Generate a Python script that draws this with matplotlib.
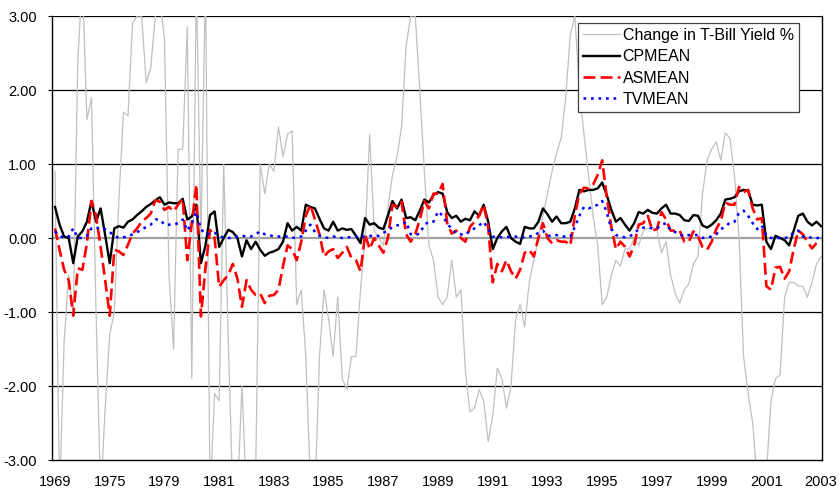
import matplotlib
matplotlib.use("Agg")
import matplotlib.pyplot as plt
import numpy as np

plt.rcParams['font.family'] = ['Liberation Sans', 'DejaVu Sans']

# two-month steps, label every 24 months
year_labels = ["1969", "1975", "1979", "1981", "1983", "1985", "1987", "1989",
               "1991", "1993", "1995", "1997", "1999", "2001", "2003"]

tbill_change = [
    0.9, -3.5, -1.4, -0.5, -1.05, 2.4, 3.5, 1.6, 1.9, -1.0, -3.5, -2.3,
    -1.3, -1.0, 0.5, 1.7, 1.65, 2.9, 3.0, 3.0, 2.1, 2.3, 3.0, 3.2,
    2.7, -0.5, -1.5, 1.2, 1.2, 2.85, -1.9, 3.5, 0.0, 3.5, -3.5, -2.1,
    -2.2, 1.0, -1.4, -3.5, -3.5, -2.0, -3.5, -3.5, -3.2, 1.0, 0.6, 1.0,
    0.9, 1.5, 1.1, 1.4, 1.45, -0.9, -0.7, -1.6, -3.3, -3.5, -1.6, -0.7,
    -1.1, -1.6, -0.8, -1.9, -2.05, -1.6, -1.6, -0.7, 0.0, 1.4, 0.1, 0.0,
    -0.1, 0.4, 0.85, 1.1, 1.5, 2.6, 3.0, 3.0, 2.0, 0.9, -0.1, -0.3,
    -0.8, -0.9, -0.8, -0.3, -0.8, -0.7, -1.8, -2.35, -2.3, -2.05, -2.2, -2.75,
    -2.4, -1.76, -1.9, -2.3, -2.0, -1.1, -0.9, -1.2, -0.6, -0.3, 0.0, 0.3,
    0.6, 0.9, 1.15, 1.35, 1.9, 2.75, 3.0, 2.0, 1.4, 0.85, 0.3, -0.1,
    -0.9, -0.8, -0.5, -0.3, -0.38, -0.15, -0.15, 0.0, -0.1, 0.1, 0.13, 0.15,
    0.1, -0.2, -0.05, -0.5, -0.75, -0.88, -0.7, -0.62, -0.35, -0.25, 0.6, 1.05,
    1.2, 1.3, 1.05, 1.42, 1.35, 0.85, 0.0, -1.6, -2.1, -2.5, -3.3, -3.5,
    -3.2, -2.2, -1.9, -1.85, -0.8, -0.6, -0.6, -0.65, -0.65, -0.8, -0.6, -0.35, -0.25,
]

cpmean = [
    0.42, 0.18, 0.02, 0.0, -0.34, 0.02, 0.09, 0.22, 0.5, 0.22, 0.40, 0.04,
    -0.34, 0.13, 0.16, 0.14, 0.22, 0.25, 0.31, 0.36, 0.42, 0.46, 0.51, 0.55,
    0.45, 0.48, 0.47, 0.47, 0.53, 0.25, 0.29, 0.45, -0.34, -0.1, 0.31, 0.36,
    -0.12, 0.0, 0.11, 0.08, 0.0, -0.25, -0.03, -0.15, -0.05, -0.16, -0.24, -0.2,
    -0.18, -0.15, -0.05, 0.2, 0.1, 0.15, 0.1, 0.45, 0.42, 0.4, 0.26, 0.13,
    0.1, 0.22, 0.1, 0.13, 0.11, 0.12, 0.03, -0.07, 0.27, 0.18, 0.2, 0.14,
    0.12, 0.3, 0.5, 0.4, 0.52, 0.27, 0.28, 0.24, 0.37, 0.52, 0.48, 0.58,
    0.62, 0.6, 0.35, 0.27, 0.3, 0.22, 0.26, 0.24, 0.36, 0.3, 0.45, 0.22,
    -0.15, 0.0, 0.09, 0.15, 0.0, -0.05, -0.08, 0.15, 0.13, 0.13, 0.22, 0.4,
    0.32, 0.22, 0.29, 0.2, 0.2, 0.22, 0.4, 0.65, 0.63, 0.65, 0.65, 0.67,
    0.75, 0.58, 0.38, 0.22, 0.27, 0.18, 0.1, 0.2, 0.35, 0.33, 0.38, 0.34,
    0.33, 0.4, 0.45, 0.33, 0.33, 0.31, 0.24, 0.23, 0.31, 0.3, 0.17, 0.14,
    0.18, 0.24, 0.33, 0.52, 0.53, 0.55, 0.63, 0.65, 0.64, 0.45, 0.44, 0.45,
    -0.05, -0.15, 0.03, 0.0, -0.03, -0.1, 0.1, 0.3, 0.33, 0.22, 0.17, 0.22, 0.16,
]

asmean = [
    0.13, -0.16, -0.43, -0.57, -1.05, -0.41, -0.43, -0.07, 0.5, 0.3, -0.12, -0.57,
    -1.05, -0.16, -0.18, -0.23, -0.09, 0.06, 0.13, 0.22, 0.27, 0.33, 0.51, 0.49,
    0.38, 0.42, 0.36, 0.45, 0.53, -0.3, 0.2, 0.72, -1.06, -0.4, 0.11, 0.0,
    -0.66, -0.57, -0.5, -0.35, -0.55, -0.93, -0.57, -0.7, -0.77, -0.75, -0.88, -0.78,
    -0.77, -0.7, -0.38, -0.1, -0.15, -0.3, -0.05, 0.3, 0.45, 0.25, 0.05, -0.25,
    -0.18, -0.15, -0.27, -0.2, -0.12, -0.27, -0.3, -0.45, 0.05, -0.15, 0.0, -0.1,
    -0.2, 0.0, 0.45, 0.42, 0.49, 0.05, -0.05, 0.05, 0.25, 0.5, 0.4, 0.6,
    0.6, 0.73, 0.2, 0.06, 0.1, 0.0, -0.05, 0.15, 0.22, 0.3, 0.45, 0.15,
    -0.6, -0.35, -0.45, -0.3, -0.45, -0.55, -0.43, -0.2, -0.16, -0.25, 0.0, 0.2,
    0.0, -0.07, -0.03, -0.05, -0.05, -0.1, 0.3, 0.6, 0.68, 0.67, 0.72, 0.85,
    1.05, 0.55, 0.15, -0.15, -0.05, -0.12, -0.25, -0.1, 0.18, 0.2, 0.3, 0.1,
    0.12, 0.35, 0.25, 0.1, 0.1, 0.1, -0.05, -0.05, 0.09, 0.02, -0.12, -0.16,
    -0.05, 0.12, 0.23, 0.48, 0.45, 0.45, 0.69, 0.62, 0.65, 0.4, 0.25, 0.27,
    -0.65, -0.7, -0.4, -0.39, -0.55, -0.45, -0.15, 0.1, 0.05, -0.05, -0.14, -0.07, -0.03,
]

tvmean = [
    0.09, 0.03, 0.0, 0.02, 0.13, 0.0, 0.0, 0.03, 0.13, 0.15, 0.11, 0.12,
    0.08, 0.03, 0.0, 0.01, 0.02, 0.05, 0.08, 0.11, 0.15, 0.18, 0.25, 0.25,
    0.18, 0.18, 0.18, 0.2, 0.25, 0.1, 0.2, 0.35, 0.12, 0.05, 0.06, 0.07,
    0.03, 0.0, 0.0, 0.0, 0.02, 0.03, 0.02, 0.02, 0.05, 0.09, 0.05, 0.04,
    0.02, 0.02, 0.02, 0.02, 0.0, 0.01, 0.02, 0.1, 0.18, 0.08, 0.03, 0.01,
    0.0, 0.02, 0.01, 0.0, 0.01, 0.01, 0.02, 0.0, 0.03, 0.03, 0.02, 0.03,
    0.07, 0.1, 0.15, 0.17, 0.18, 0.22, 0.05, 0.04, 0.06, 0.18, 0.22, 0.22,
    0.36, 0.3, 0.2, 0.12, 0.06, 0.05, 0.04, 0.1, 0.13, 0.17, 0.22, 0.12,
    0.02, 0.01, 0.01, 0.01, 0.02, 0.02, 0.0, 0.01, 0.02, 0.03, 0.07, 0.1,
    0.03, 0.03, 0.04, 0.02, 0.02, 0.02, 0.15, 0.3, 0.42, 0.4, 0.42, 0.45,
    0.5, 0.35, 0.12, 0.04, 0.02, 0.01, 0.02, 0.06, 0.12, 0.14, 0.14, 0.13,
    0.13, 0.18, 0.2, 0.1, 0.08, 0.05, 0.02, 0.04, 0.04, 0.04, 0.0, 0.01,
    0.02, 0.05, 0.12, 0.15, 0.21, 0.22, 0.34, 0.37, 0.3, 0.2, 0.12, 0.17,
    0.03, 0.0, 0.0, 0.0, 0.0, 0.01, 0.08, 0.1, 0.02, 0.0, 0.01, 0.0, 0.0,
]

x = np.arange(len(cpmean))

fig = plt.figure(figsize=(8.39, 4.92), dpi=100)
ax = fig.add_axes([52 / 839, 1 - 460 / 492, 770 / 839, 444 / 492])

for v in [-2, -1, 1, 2, 3]:
    ax.axhline(v, color='black', lw=0.9, zorder=1)
ax.axhline(0, color='#a0a0a0', lw=1.6, zorder=1)

ax.plot(x, tbill_change, color='#c0c0c0', lw=0.9, label='Change in T-Bill Yield %', zorder=2)
ax.plot(x, cpmean, color='black', lw=1.7, label='CPMEAN', zorder=3)
ax.plot(x, asmean, color='#ff0000', lw=1.9, linestyle=(0, (4.5, 2)), label='ASMEAN', zorder=4)
ax.plot(x, tvmean, color='#0000ff', lw=1.8, linestyle=(0, (1.1, 1.9)), label='TVMEAN', zorder=5)

ax.set_ylim(-3, 3)
ax.set_xlim(-0.66, 168.2)
ax.set_yticks([-3, -2, -1, 0, 1, 2, 3])
ax.set_yticklabels([f"{v:.2f}" for v in [-3, -2, -1, 0, 1, 2, 3]])
ax.set_xticks(np.arange(0, 169, 12))
ax.set_xticklabels(year_labels)
ax.tick_params(axis='x', length=0, pad=11, labelsize=10.5)
ax.tick_params(axis='y', length=3, pad=8, labelsize=10.5)

for s in ['left', 'right', 'bottom']:
    ax.spines[s].set_color('black')
    ax.spines[s].set_linewidth(1.0)
ax.spines['top'].set_visible(False)

leg = ax.legend(loc='upper left', bbox_to_anchor=(578 / 839, 1 - 23 / 492),
                bbox_transform=fig.transFigure, borderaxespad=0, fontsize=11.5,
                handlelength=2.3, handletextpad=0.2, labelspacing=0.4,
                borderpad=0.3, fancybox=False, framealpha=1, edgecolor='#404040')
leg.get_frame().set_linewidth(0.9)

fig.savefig('out.png', dpi=100)
